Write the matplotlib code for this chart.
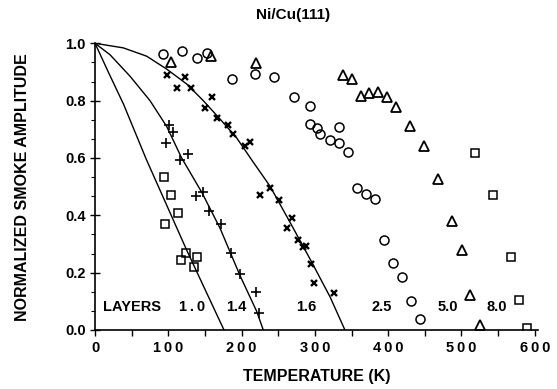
import numpy as np
import matplotlib
matplotlib.use("Agg")
import matplotlib.pyplot as plt
from matplotlib.ticker import MultipleLocator

plt.rcParams['font.family'] = ['Liberation Sans', 'DejaVu Sans']
plt.rcParams['font.weight'] = 'bold'

# measured points, read off the figure
# 1.0 layer (squares, left)
sq1_T = [94.1, 103.3, 112.8, 95.0, 124.1, 117.8, 139.6, 135.5]
sq1_M = [0.535, 0.472, 0.408, 0.369, 0.269, 0.245, 0.256, 0.220]
# 1.4 layer (plus)
p14_T = [101.5, 106.8, 96.9, 127.4, 116.4, 147.4, 137.8, 155.5, 171.9, 185.5, 198.2, 219.3, 224.1]
p14_M = [0.716, 0.690, 0.653, 0.615, 0.592, 0.483, 0.468, 0.416, 0.369, 0.269, 0.194, 0.131, 0.059]
# 1.6 layer (x)
x16_T = [97.8, 122.3, 111.9, 131.4, 159.6, 149.6, 166.0, 181.0, 188.8, 205.1, 211.4,
         225.2, 238.4, 250.6, 268.8, 262.4, 277.4, 284.2, 287.9, 294.3, 299.2, 326.1]
x16_M = [0.889, 0.882, 0.845, 0.844, 0.811, 0.776, 0.738, 0.715, 0.684, 0.641, 0.656,
         0.472, 0.495, 0.454, 0.390, 0.355, 0.313, 0.290, 0.293, 0.231, 0.163, 0.130]
# 2.5 layers (circles)
c25_T = [92.3, 119.1, 138.8, 153.2, 187.3, 218.2, 244.3, 271.5, 293.0, 293.0, 302.5, 307.0,
         320.6, 332.9, 332.9, 345.6, 357.1, 369.7, 381.6, 394.7, 406.6, 418.9, 430.7, 443.4]
c25_M = [0.961, 0.972, 0.950, 0.966, 0.875, 0.894, 0.881, 0.811, 0.781, 0.719, 0.705, 0.682,
         0.664, 0.708, 0.653, 0.622, 0.495, 0.474, 0.457, 0.315, 0.234, 0.186, 0.101, 0.038]
# 5.0 layers (triangles)
t50_T = [103.7, 157.9, 219.7, 338.0, 350.2, 362.5, 374.3, 386.6, 398.8, 410.7,
         429.2, 448.9, 467.5, 487.5, 500.3, 511.6, 525.3]
t50_M = [0.935, 0.956, 0.930, 0.889, 0.875, 0.817, 0.827, 0.830, 0.813, 0.777,
         0.713, 0.641, 0.526, 0.380, 0.280, 0.122, 0.018]
# 8.0 layers (squares, right)
sq8_T = [518.0, 542.6, 567.5, 578.9, 588.8]
sq8_M = [0.619, 0.471, 0.254, 0.105, 0.007]

# fitted curves
fit10_T = [0, 19, 39, 70, 125, 150, 176]
fit10_M = [1.0, 0.895, 0.787, 0.595, 0.279, 0.142, 0.0]
fit14_T = [0, 20.5, 47.8, 75.0, 97.8, 118.2, 145.7, 170.6, 197.8, 220.6, 229.6]
fit14_M = [1.0, 0.96, 0.885, 0.80, 0.71, 0.60, 0.48, 0.355, 0.19, 0.065, 0.0]
fit16_T = [0, 38.6, 70.5, 97.8, 125.1, 147.7, 170.5, 193.3, 216.0, 238.7, 266.0, 293.3, 320.6, 341.0]
fit16_M = [1.0, 0.984, 0.955, 0.910, 0.858, 0.800, 0.736, 0.670, 0.585, 0.502, 0.376, 0.248, 0.116, 0.0]

layer_labels = ['LAYERS', '1\u2009.\u20090', '1.4', '1.6', '2.5', '5.0', '8.0']
layer_label_T = [50, 132.7, 193.3, 288.8, 391, 481.6, 548.4]

fig = plt.figure(figsize=(5.57, 3.89), dpi=100)
ax = fig.add_axes([0.1706, 0.1517, 0.796, 0.737])

for T, M in [(fit10_T, fit10_M), (fit14_T, fit14_M), (fit16_T, fit16_M)]:
    ax.plot(T, M, color='black', lw=1.0)

ax.plot(sq1_T, sq1_M, 's', ms=6, mfc='none', mec='black', mew=1.1)
ax.plot(sq8_T, sq8_M, 's', ms=6, mfc='none', mec='black', mew=1.1)
ax.plot(p14_T, p14_M, '+', ms=7, mec='black', mew=1.2)
ax.plot(x16_T, x16_M, 'x', ms=4, mec='black', mew=1.7)
ax.plot(c25_T, c25_M, 'o', ms=6.5, mfc='none', mec='black', mew=1.1)
ax.plot(t50_T, t50_M, '^', ms=7.5, mfc='none', mec='black', mew=1.3)

for lab, t in zip(layer_labels, layer_label_T):
    ax.text(t, 0.08, lab, ha='center', va='center', fontsize=10.5, fontweight='bold')

ax.set_xlim(0, 605)
ax.set_ylim(0, 1.0)
ax.spines['top'].set_visible(False)
ax.spines['right'].set_visible(False)
ax.spines['left'].set_linewidth(1.2)
ax.spines['bottom'].set_linewidth(1.2)

xt = [0, 100, 200, 300, 400, 500, 600]
ax.set_xticks(xt)
ax.set_xticklabels(['\u2009'.join(str(v)) for v in xt], fontsize=10.5, fontweight='bold')
ax.xaxis.set_minor_locator(MultipleLocator(50))
ax.tick_params(axis='x', which='both', direction='out', length=4, width=1.0, pad=4)

ax.set_yticks([0.0, 0.2, 0.4, 0.6, 0.8, 1.0])
ax.set_yticklabels(['0.0', '0.2', '0.4', '0.6', '0.8', '1.0'], fontsize=10.5, fontweight='bold')
ax.yaxis.set_minor_locator(MultipleLocator(0.2 / 3))
ax.tick_params(axis='y', which='major', direction='inout', length=7, width=1.0, pad=3)
ax.tick_params(axis='y', which='minor', direction='out', length=3, width=0.8)

ax.set_xlabel('TEMPERATURE (K)', fontsize=11.5, fontweight='bold')
ax.xaxis.set_label_coords(0.5, -0.135)
ax.set_ylabel('NORMALIZED SMOKE AMPLITUDE', fontsize=11.5, fontweight='bold')
ax.yaxis.set_label_coords(-0.147, 0.5)

fig.text(0.526, 0.962, 'Ni/Cu(111)', ha='center', va='center', fontsize=11, fontweight='bold')

fig.savefig('out.png', dpi=100)
